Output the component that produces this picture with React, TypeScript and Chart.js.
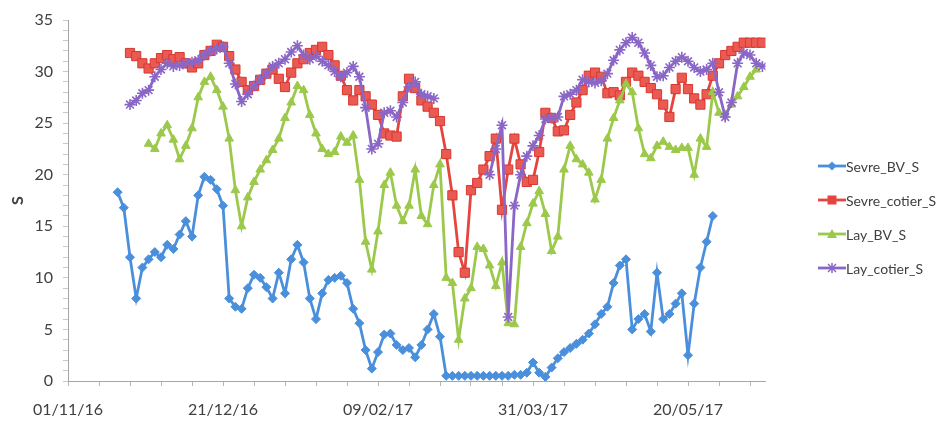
import React, { useEffect, useRef } from 'react';
import { Chart, registerables } from 'chart.js';

Chart.register(...registerables);

// Days since 01/11/16
const dayOffsets = [
  16, 18, 20, 22, 24, 26, 28, 30, 32, 34, 36, 38, 40, 42, 44, 46, 48, 50, 52, 54,
  56, 58, 60, 62, 64, 66, 68, 70, 72, 74, 76, 78, 80, 82, 84, 86, 88, 90, 92, 94,
  96, 98, 100, 102, 104, 106, 108, 110, 112, 114, 116, 118, 120, 122, 124, 126, 128, 130, 132, 134,
  136, 138, 140, 142, 144, 146, 148, 150, 152, 154, 156, 158, 160, 162, 164, 166, 168, 170, 172, 174,
  176, 178, 180, 182, 184, 186, 188, 190, 192, 194, 196, 198, 200, 202, 204, 206, 208, 210, 212, 214,
  216, 218, 220, 222, 224,
];

const sevreBV = [
  18.3, 16.8, 12.0, 8.0, 11.0, 11.8, 12.5, 12.0, 13.2, 12.8, 14.2, 15.5, 14.0, 18.0, 19.8, 19.5, 18.6, 17.0, 8.0, 7.2,
  7.0, 9.0, 10.3, 10.0, 9.1, 8.0, 10.5, 8.5, 11.8, 13.2, 11.5, 8.0, 6.0, 8.5, 9.8, 10.0, 10.2, 9.5, 7.0, 5.6,
  3.0, 1.2, 2.8, 4.5, 4.6, 3.5, 3.0, 3.2, 2.3, 3.5, 5.0, 6.5, 4.3, 0.5, 0.5, 0.5, 0.5, 0.5, 0.5, 0.5,
  0.5, 0.5, 0.5, 0.5, 0.6, 0.6, 0.8, 1.8, 0.8, 0.4, 1.3, 2.2, 2.8, 3.2, 3.6, 4.0, 4.6, 5.5, 6.5, 7.2,
  9.5, 11.2, 11.8, 5.0, 6.0, 6.5, 4.8, 10.5, 6.0, 6.5, 7.5, 8.5, 2.5, 7.5, 11.0, 13.5, 16.0, null, null, null,
  null, null, null, null, null,
];

const sevreCotier = [
  null, null, 31.8, 31.5, 30.8, 30.3, 30.8, 31.3, 31.6, 31.2, 31.4, 30.8, 30.4, 30.8, 31.6, 32.0, 32.6, 32.4, 31.5, 30.2,
  29.0, 28.2, 28.6, 29.2, 29.8, 30.2, 29.3, 28.5, 29.9, 30.8, 31.2, 31.8, 32.1, 32.4, 31.6, 30.6, 29.6, 28.2, 27.2, 28.2,
  27.6, 26.8, 25.8, 24.0, 23.8, 23.7, 27.6, 29.3, 28.4, 27.2, 26.6, 26.0, 25.2, 22.0, 18.0, 12.5, 10.5, 18.5, 19.2, 20.5,
  21.8, 23.5, 16.6, 20.5, 23.5, 21.0, 19.3, 19.5, 22.2, 26.0, 25.5, 24.2, 24.3, 25.8, 27.0, 28.2, 29.6, 29.9, 29.5, 27.9,
  28.0, 27.7, 29.0, 29.9, 29.6, 29.0, 28.4, 27.8, 26.8, 25.6, 28.3, 29.4, 28.3, 27.4, 26.8, 27.8, 29.6, 30.8, 31.6, 32.0,
  32.4, 32.8, 32.8, 32.8, 32.8,
];

const layBV = [
  null, null, null, null, null, 23.0, 22.5, 24.0, 24.8, 23.4, 21.5, 22.8, 24.5, 27.5, 29.0, 29.5, 28.2, 26.6, 23.5, 18.5,
  15.0, 17.8, 19.3, 20.5, 21.4, 22.4, 23.5, 25.5, 27.0, 28.6, 28.2, 25.8, 24.0, 22.5, 22.0, 22.2, 23.7, 23.1, 23.8, 19.5,
  13.5, 10.8, 14.5, 19.0, 20.2, 17.0, 15.5, 17.0, 20.5, 16.0, 15.2, 19.0, 21.0, 10.0, 9.5, 4.0, 8.0, 9.0, 13.0, 12.8,
  11.2, 9.2, 11.5, 5.6, 5.5, 13.0, 15.3, 17.2, 18.4, 16.2, 12.6, 14.0, 20.5, 22.8, 21.5, 21.0, 20.2, 17.6, 19.5, 23.5,
  25.5, 27.2, 28.8, 28.0, 24.5, 22.0, 21.6, 22.8, 23.2, 22.7, 22.4, 22.6, 22.6, 20.0, 23.5, 22.7, 28.0, 26.0, 25.8, 26.8,
  27.6, 28.5, 29.5, 30.2, null,
];

const layCotier = [
  null, null, 26.8, 27.2, 27.9, 28.2, 29.5, 30.2, 30.8, 30.5, 30.6, 30.8, 30.9, 31.1, 31.6, 32.0, 32.2, 32.4, 30.8, 28.8,
  27.1, 27.8, 28.6, 29.2, 29.8, 30.5, 30.8, 31.2, 31.9, 32.5, 31.6, 31.2, 31.5, 31.0, 30.6, 30.0, 29.5, 29.9, 30.5, 29.5,
  26.5, 22.5, 23.0, 26.0, 26.2, 25.6, 27.0, 28.5, 29.0, 27.8, 27.6, 27.4, null, null, null, null, null, null, null, null,
  20.0, 22.5, 24.8, 6.2, 17.0, 20.0, 21.8, 22.8, 23.8, 25.4, 25.5, 25.6, 27.6, 27.8, 28.2, 29.2, 29.0, 28.9, 29.1, 29.8,
  31.1, 32.1, 32.8, 33.3, 32.8, 31.8, 30.6, 29.5, 29.6, 30.4, 31.0, 31.4, 31.0, 30.4, 30.0, 30.2, 30.8, 28.0, 25.6, 27.0,
  30.8, 31.8, 31.6, 30.8, 30.5,
];

const seriesNames = ['Sevre_BV_S', 'Sevre_cotier_S', 'Lay_BV_S', 'Lay_cotier_S'];
const tickDays = [0, 50, 100, 150, 200];
const tickLabels = ['01/11/16', '21/12/16', '09/02/17', '31/03/17', '20/05/17'];
const yAxisTitle = 'S';

const BLUE = '#4a8fdc';
const RED = '#e4463f';
const GREEN = '#9cc94c';
const PURPLE = '#8a66c6';
const TEXT = '#404040';

function toXY(values: (number | null)[]) {
  return dayOffsets.map((d, i) => ({ x: d, y: values[i] }));
}

function LegendIcon({ kind, color }: { kind: string; color: string }) {
  const cx = 14;
  const cy = 7;
  let marker: React.ReactNode = null;
  if (kind === 'diamond') {
    marker = <polygon points={`${cx},${cy - 4.5} ${cx + 4.5},${cy} ${cx},${cy + 4.5} ${cx - 4.5},${cy}`} fill={color} />;
  } else if (kind === 'square') {
    marker = <rect x={cx - 4.5} y={cy - 4.5} width={9} height={9} fill={color} />;
  } else if (kind === 'triangle') {
    marker = <polygon points={`${cx},${cy - 5} ${cx + 5},${cy + 4} ${cx - 5},${cy + 4}`} fill={color} />;
  } else {
    marker = (
      <g stroke={color} strokeWidth={1.5}>
        <line x1={cx - 4} y1={cy - 4} x2={cx + 4} y2={cy + 4} />
        <line x1={cx - 4} y1={cy + 4} x2={cx + 4} y2={cy - 4} />
        <line x1={cx} y1={cy - 5} x2={cx} y2={cy + 5} />
      </g>
    );
  }
  return (
    <svg width={28} height={14} style={{ display: 'block' }}>
      <line x1={0} y1={cy} x2={28} y2={cy} stroke={color} strokeWidth={2.8} />
      {marker}
    </svg>
  );
}

export default function App() {
  const canvasRef = useRef<HTMLCanvasElement | null>(null);

  useEffect(() => {
    if (!canvasRef.current) return;
    const common = { borderWidth: 2.8, tension: 0, spanGaps: false, pointBorderWidth: 1 };
    const chart = new Chart(canvasRef.current, {
      type: 'line',
      data: {
        datasets: [
          {
            ...common,
            label: seriesNames[0],
            data: toXY(sevreBV),
            borderColor: BLUE,
            backgroundColor: BLUE,
            pointBackgroundColor: BLUE,
            pointBorderColor: BLUE,
            pointStyle: 'rectRot',
            pointRadius: 4.5,
            order: 3,
          },
          {
            ...common,
            label: seriesNames[1],
            data: toXY(sevreCotier),
            borderColor: RED,
            backgroundColor: RED,
            pointBackgroundColor: '#ea5a52',
            pointBorderColor: '#d8382f',
            pointStyle: 'rect',
            pointRadius: 6.5,
            order: 2,
          },
          {
            ...common,
            label: seriesNames[2],
            data: toXY(layBV),
            borderColor: GREEN,
            backgroundColor: GREEN,
            pointBackgroundColor: GREEN,
            pointBorderColor: GREEN,
            pointStyle: 'triangle',
            pointRadius: 5,
            order: 1,
          },
          {
            ...common,
            label: seriesNames[3],
            data: toXY(layCotier),
            borderColor: PURPLE,
            backgroundColor: PURPLE,
            pointBackgroundColor: PURPLE,
            pointBorderColor: PURPLE,
            pointBorderWidth: 1.6,
            pointStyle: 'star',
            pointRadius: 5.5,
            order: 0,
          },
        ],
      },
      options: {
        responsive: false,
        animation: false,
        devicePixelRatio: 1,
        layout: { padding: { left: 0, top: 20, right: 180.5, bottom: 0 } },
        plugins: { legend: { display: false }, tooltip: { enabled: false } },
        scales: {
          x: {
            type: 'linear',
            min: 0,
            max: 225,
            afterFit: (s: any) => {
              s.height = 41;
            },
            grid: { drawOnChartArea: false, drawTicks: true, tickLength: 5, color: '#b5b5b5' },
            border: { display: true, color: '#a6a6a6', width: 1 },
            ticks: {
              stepSize: 10,
              includeBounds: false,
              autoSkip: false,
              maxRotation: 0,
              padding: 14,
              color: TEXT,
              font: { family: 'Lato', size: 16 },
              callback: (v: any) => {
                const i = tickDays.indexOf(Number(v));
                return i >= 0 ? tickLabels[i] : '';
              },
            },
          },
          y: {
            min: 0,
            max: 35,
            afterFit: (s: any) => {
              s.width = 68;
            },
            grid: { drawOnChartArea: false, drawTicks: true, tickLength: 5, color: '#c8c8c8' },
            border: { display: true, color: '#a6a6a6', width: 1 },
            title: {
              display: true,
              text: yAxisTitle,
              color: TEXT,
              font: { family: 'Lato', size: 16, weight: 'bold' },
              padding: { top: 8, bottom: 0 },
            },
            ticks: {
              stepSize: 1,
              autoSkip: false,
              padding: 10,
              color: TEXT,
              font: { family: 'Lato', size: 16 },
              callback: (v: any) => (Number(v) % 5 === 0 ? String(v) : ''),
            },
          },
        },
      },
    } as any);
    return () => chart.destroy();
  }, []);

  const legendItems = [
    { name: seriesNames[0], kind: 'diamond', color: BLUE, top: 166 },
    { name: seriesNames[1], kind: 'square', color: RED, top: 200 },
    { name: seriesNames[2], kind: 'triangle', color: GREEN, top: 234 },
    { name: seriesNames[3], kind: 'star', color: PURPLE, top: 268 },
  ];

  return (
    <div style={{ position: 'absolute', left: 0, top: 0, width: 946, height: 422, background: '#fff', overflow: 'hidden' }}>
      <canvas ref={canvasRef} width={946} height={422} style={{ width: 946, height: 422, display: 'block' }} />
      {legendItems.map((it) => (
        <div
          key={it.name}
          style={{
            position: 'absolute',
            left: 818,
            top: it.top - 9,
            height: 18,
            display: 'flex',
            alignItems: 'center',
            fontFamily: 'Lato',
            fontSize: 14,
            color: TEXT,
            whiteSpace: 'nowrap',
          }}
        >
          <LegendIcon kind={it.kind} color={it.color} />
          <span>{it.name}</span>
        </div>
      ))}
    </div>
  );
}
